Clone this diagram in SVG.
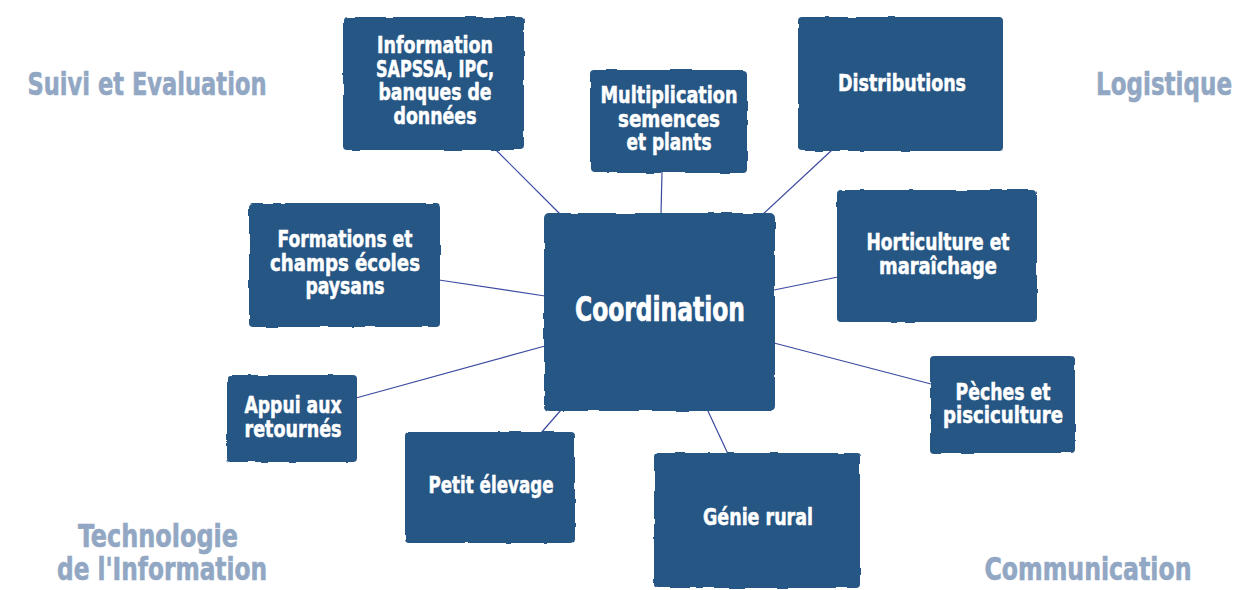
<svg xmlns="http://www.w3.org/2000/svg" width="1241" height="590" viewBox="0 0 1241 590">
<defs>
<style>
.box{fill:#285684;filter:url(#rough)}
.lbl{font-family:"DejaVu Sans Condensed","Liberation Sans",sans-serif;font-weight:bold;fill:#ffffff;stroke:#ffffff;stroke-width:0.5;text-anchor:middle;font-size:23px}
.big{font-size:33px;stroke-width:0.7}
.corner{font-family:"DejaVu Sans Condensed","Liberation Sans",sans-serif;font-weight:bold;fill:#91a7c3;stroke:#91a7c3;stroke-width:0.6;text-anchor:middle;font-size:32px}
.conn line{stroke:#3b4aa0;stroke-width:1.2}
</style>
<filter id="rough" x="-5%" y="-5%" width="110%" height="110%">
<feTurbulence type="fractalNoise" baseFrequency="0.05" numOctaves="2" seed="4" result="n"/>
<feDisplacementMap in="SourceGraphic" in2="n" scale="3" xChannelSelector="R" yChannelSelector="G"/>
</filter>
</defs>
<rect width="1241" height="590" fill="#ffffff"/>
<g id="corners">
<text class="corner" x="147" y="95" textLength="239" lengthAdjust="spacingAndGlyphs">Suivi et Evaluation</text>
<text class="corner" x="1164" y="95" textLength="136" lengthAdjust="spacingAndGlyphs">Logistique</text>
<text class="corner" x="158" y="547" textLength="160" lengthAdjust="spacingAndGlyphs">Technologie</text>
<text class="corner" x="162" y="580" textLength="210" lengthAdjust="spacingAndGlyphs">de l'Information</text>
<text class="corner" x="1088" y="580" textLength="207" lengthAdjust="spacingAndGlyphs">Communication</text>
</g>
<g id="connectors" class="conn">
<line x1="496" y1="150" x2="561" y2="215"/>
<line x1="662" y1="172" x2="661" y2="214"/>
<line x1="832" y1="150" x2="762" y2="215"/>
<line x1="838" y1="277" x2="774" y2="290"/>
<line x1="439" y1="280" x2="545" y2="296"/>
<line x1="356" y1="398" x2="545" y2="346"/>
<line x1="541" y1="433" x2="561" y2="410"/>
<line x1="707" y1="409" x2="728" y2="454"/>
<line x1="774" y1="343" x2="931" y2="384"/>
</g>
<g id="n-information">
<rect class="box" x="343" y="17" width="181" height="133" rx="4"/>
<text class="lbl" x="435" y="53" textLength="116" lengthAdjust="spacingAndGlyphs">Information</text>
<text class="lbl" x="435" y="76.5" textLength="118" lengthAdjust="spacingAndGlyphs">SAPSSA, IPC,</text>
<text class="lbl" x="435" y="100" textLength="113" lengthAdjust="spacingAndGlyphs">banques de</text>
<text class="lbl" x="435" y="123.5" textLength="83" lengthAdjust="spacingAndGlyphs">données</text>
</g>
<g id="n-multiplication">
<rect class="box" x="590" y="70" width="157" height="103" rx="4"/>
<text class="lbl" x="669" y="103" textLength="137" lengthAdjust="spacingAndGlyphs">Multiplication</text>
<text class="lbl" x="669" y="126.5" textLength="102" lengthAdjust="spacingAndGlyphs">semences</text>
<text class="lbl" x="669" y="150" textLength="85" lengthAdjust="spacingAndGlyphs">et plants</text>
</g>
<g id="n-distributions">
<rect class="box" x="798" y="17" width="205" height="134" rx="4"/>
<text class="lbl" x="902" y="91" textLength="128" lengthAdjust="spacingAndGlyphs">Distributions</text>
</g>
<g id="n-horticulture">
<rect class="box" x="837" y="190" width="200" height="132" rx="4"/>
<text class="lbl" x="938" y="250" textLength="143" lengthAdjust="spacingAndGlyphs">Horticulture et</text>
<text class="lbl" x="938" y="273.5" textLength="118" lengthAdjust="spacingAndGlyphs">maraîchage</text>
</g>
<g id="n-formations">
<rect class="box" x="249" y="203" width="191" height="124" rx="4"/>
<text class="lbl" x="345" y="247" textLength="135" lengthAdjust="spacingAndGlyphs">Formations et</text>
<text class="lbl" x="345" y="270.5" textLength="150" lengthAdjust="spacingAndGlyphs">champs écoles</text>
<text class="lbl" x="345" y="294" textLength="79" lengthAdjust="spacingAndGlyphs">paysans</text>
</g>
<g id="n-coordination">
<rect class="box" x="544" y="213" width="231" height="198" rx="5"/>
<text class="lbl big" x="660" y="321" textLength="170" lengthAdjust="spacingAndGlyphs">Coordination</text>
</g>
<g id="n-appui">
<rect class="box" x="227" y="375" width="130" height="87" rx="4"/>
<text class="lbl" x="293" y="413" textLength="97" lengthAdjust="spacingAndGlyphs">Appui aux</text>
<text class="lbl" x="293" y="436.5" textLength="97" lengthAdjust="spacingAndGlyphs">retournés</text>
</g>
<g id="n-petit-elevage">
<rect class="box" x="405" y="432" width="170" height="111" rx="4"/>
<text class="lbl" x="491" y="493" textLength="125" lengthAdjust="spacingAndGlyphs">Petit élevage</text>
</g>
<g id="n-genie-rural">
<rect class="box" x="654" y="453" width="206" height="135" rx="4"/>
<text class="lbl" x="758" y="525" textLength="110" lengthAdjust="spacingAndGlyphs">Génie rural</text>
</g>
<g id="n-peches">
<rect class="box" x="930" y="356" width="145" height="97" rx="4"/>
<text class="lbl" x="1003" y="400" textLength="95" lengthAdjust="spacingAndGlyphs">Pèches et</text>
<text class="lbl" x="1003" y="423" textLength="120" lengthAdjust="spacingAndGlyphs">pisciculture</text>
</g>
</svg>
